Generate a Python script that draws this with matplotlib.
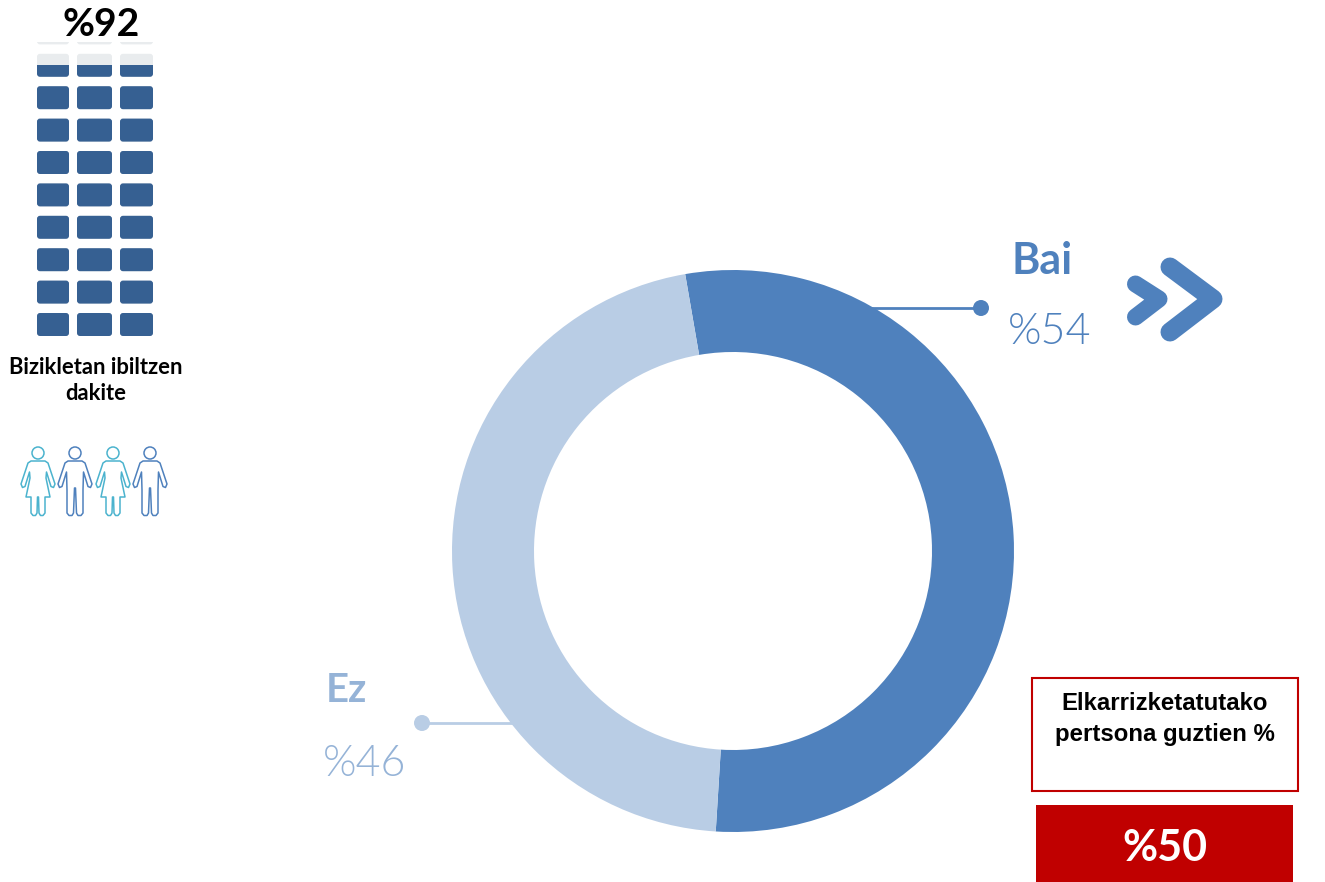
import matplotlib
matplotlib.use('Agg')
import matplotlib.pyplot as plt
from matplotlib.patches import Circle, FancyBboxPatch, Polygon, Rectangle

# Chart values
donut_labels = ['Bai', 'Ez']
donut_values = [53.7, 46.3]  # as drawn in the ring
donut_value_labels = ['%54', '%46']
waffle_label = '%92'
waffle_rows_filled = 8.5  # rows of blue, counted from the bottom
box_value_label = '%50'

BLUE = '#4F81BD'
LIGHT = '#B9CDE5'
LABEL_LIGHT = '#95B3D7'
DARK = '#366092'
GREY = '#E9ECEE'
RED = '#C00000'
TEAL = '#4BB3CE'

W, H = 1325, 882
PT = 0.72  # px to pt at dpi 100


def px_text(ax, x, y, s, size, **kw):
    kw.setdefault('ha', 'center')
    kw.setdefault('va', 'center')
    ax.text(x, y, s, fontsize=size * PT, **kw)


fig = plt.figure(figsize=(W / 100, H / 100), dpi=100)

# full figure axes in image pixels
ax = fig.add_axes([0, 0, 1, 1], zorder=0)
ax.set_xlim(0, W)
ax.set_ylim(H, 0)
ax.axis('off')

# donut
cx, cy, r_out, r_in = 733, 551, 281, 199
ax_pie = fig.add_axes([(cx - r_out) / W, (H - cy - r_out) / H, 2 * r_out / W, 2 * r_out / H], zorder=1)
ax_pie.pie(donut_values, colors=[BLUE, LIGHT], startangle=99.8, counterclock=False,
           radius=1, wedgeprops={'width': 1 - r_in / r_out, 'linewidth': 0})
ax_pie.set_xlim(-1, 1)
ax_pie.set_ylim(-1, 1)
ax_pie.patch.set_visible(False)

# leaders
ax.plot([860, 981], [308, 308], color=BLUE, lw=2, zorder=1)
ax.add_patch(Circle((981, 308), 8, color=BLUE, lw=0))
ax.plot([422, 530], [723, 723], color=LIGHT, lw=2, zorder=1)
ax.add_patch(Circle((422, 723), 8, color=LIGHT, lw=0))

# donut labels
px_text(ax, 1042, 261, donut_labels[0], 43, color=BLUE, family='Lato', weight='bold')
px_text(ax, 1050, 333, donut_value_labels[0], 43, color=BLUE, family='Lato', weight=300)
px_text(ax, 346, 691, donut_labels[1], 40, color=LABEL_LIGHT, family='Lato', weight='bold')
px_text(ax, 365, 764, donut_value_labels[1], 43, color=LABEL_LIGHT, family='Lato', weight=300)

# chevrons
ax.plot([1135.5, 1159, 1135.5], [284, 299, 317], color=BLUE, lw=17 * PT,
        solid_capstyle='round', solid_joinstyle='round')
ax.plot([1170, 1213, 1170], [267, 299, 332], color=BLUE, lw=19 * PT,
        solid_capstyle='round', solid_joinstyle='round')

# waffle
col_lefts = [37, 77, 120]
col_widths = [32, 35, 33]
row_bottom = 336
row_pitch = 32.4
row_h = 23
fill_y = row_bottom - row_h - (waffle_rows_filled - 0.5) * row_pitch + row_h / 2
top_clip = Rectangle((0, 42), W, H - 42, transform=ax.transData)
blue_clip = Rectangle((0, fill_y), W, H - fill_y, transform=ax.transData)
for i in range(10):
    top = row_bottom - row_h - i * row_pitch
    for left, width in zip(col_lefts, col_widths):
        for color, clip in [(GREY, top_clip), (DARK, blue_clip)]:
            p = FancyBboxPatch((left + 3, top + 3), width - 6, row_h - 6,
                               boxstyle='round,pad=3,rounding_size=3', fc=color, ec='none')
            ax.add_patch(p)
            p.set_clip_path(clip)

px_text(ax, 101, 24, waffle_label, 39, color='black', family='Lato', weight='bold')
px_text(ax, 96, 368, 'Bizikletan ibiltzen', 22, color='black', family='Lato', weight='bold')
px_text(ax, 96, 393, 'dakite', 22, color='black', family='Lato', weight='bold')

# people icons, right half of each outline as (dx, y)
woman_half = [(0, 461), (7, 461), (10, 463), (17, 484), (15.5, 487.5), (13, 486.5), (8.5, 472),
              (8, 478), (12, 497), (7, 497), (7, 513), (5, 515.5), (2.5, 515.5), (1, 513), (0.5, 497)]
man_half = [(0, 461), (7, 461), (10, 463), (17, 484), (15.5, 487.5), (13, 486.5), (8.5, 472),
            (8, 490), (8, 513), (6, 515.5), (3, 515.5), (1.5, 513), (0.5, 488)]
people_x = [38, 75, 113, 150]
people_shape = [woman_half, man_half, woman_half, man_half]
people_color = [TEAL, BLUE, TEAL, BLUE]
for px, half, color in zip(people_x, people_shape, people_color):
    pts = [(px + dx, y) for dx, y in half] + [(px - dx, y) for dx, y in reversed(half)]
    ax.add_patch(Polygon(pts, closed=True, fc='none', ec=color, lw=1.1, joinstyle='round'))
    ax.add_patch(Circle((px, 453), 6, fc='none', ec=color, lw=1.1))

# red boxes
ax.add_patch(Rectangle((1032, 678), 266, 113, fc='white', ec=RED, lw=1.5))
px_text(ax, 1165, 703, 'Elkarrizketatutako', 24, color='black', family='Liberation Sans', weight='bold')
px_text(ax, 1165, 735, 'pertsona guztien %', 24, color='black', family='Liberation Sans', weight='bold')
ax.add_patch(Rectangle((1036, 805), 257, 77, fc=RED, ec='none'))
px_text(ax, 1165, 848, box_value_label, 43, color='white', family='Lato', weight='bold')

fig.savefig('out.png', dpi=100)
